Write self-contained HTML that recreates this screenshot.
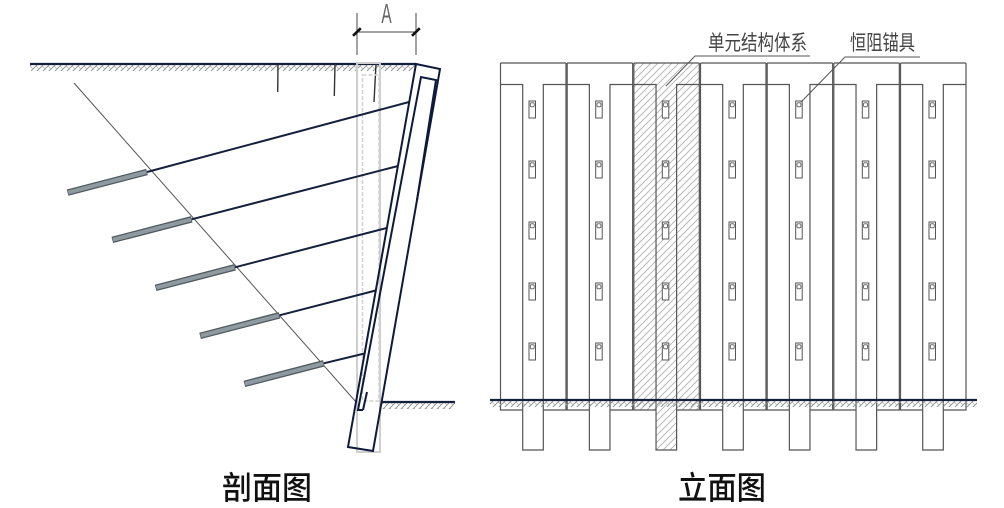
<!DOCTYPE html>
<html>
<head>
<meta charset="utf-8">
<style>
html,body{margin:0;padding:0;background:#fff;}
svg{display:block;}
</style>
</head>
<body>
<svg width="1004" height="508" viewBox="0 0 1004 508" xmlns="http://www.w3.org/2000/svg">
<defs>
  <pattern id="gh" patternUnits="userSpaceOnUse" width="6" height="6">
    <path d="M0,6 L6,0 M-1,1 L1,-1 M5,7 L7,5" stroke="#8a8a8a" stroke-width="0.9" fill="none"/>
    <path d="M0,0 L3,3" stroke="#aaa" stroke-width="0.7" fill="none"/>
  </pattern>
  <pattern id="uh" patternUnits="userSpaceOnUse" width="7" height="7">
    <path d="M0,7 L7,0 M-1,1 L1,-1 M6,8 L8,6" stroke="#b0b0b0" stroke-width="0.9" fill="none"/>
  </pattern>
  <g id="ic">
    <rect x="0" y="0" width="6.5" height="17" fill="#fff" stroke="#555" stroke-width="1"/>
    <rect x="1.3" y="1.8" width="3.9" height="4" rx="1" fill="none" stroke="#555" stroke-width="0.8"/>
  </g>
  <path id="unit" d="M0.5,63 H66 M0.5,63 V410 H22.7 M66,63 V410 H43.3 M0.5,84.5 H22.7 V450 H43.3 V84.5 H66" fill="none" stroke="#555" stroke-width="1.2"/>
</defs>

<rect width="1004" height="508" fill="#fff"/>

<!-- ================= LEFT: SECTION ================= -->
<!-- ground hatch -->
<rect x="30" y="65" width="386" height="6" fill="url(#gh)"/>
<rect x="380" y="403" width="75" height="6" fill="url(#gh)"/>
<!-- ground lines -->
<line x1="30" y1="64" x2="416" y2="64" stroke="#14213d" stroke-width="2.2"/>
<line x1="380" y1="402" x2="455" y2="402" stroke="#14213d" stroke-width="2.2"/>

<!-- small verticals -->
<line x1="278" y1="64" x2="277.7" y2="92" stroke="#333" stroke-width="1.4"/>
<line x1="335" y1="64" x2="334.3" y2="96" stroke="#333" stroke-width="1.4"/>
<line x1="376" y1="64" x2="374" y2="102" stroke="#333" stroke-width="1.4"/>

<!-- gray band -->
<rect x="357" y="63" width="23" height="389" fill="none" stroke="#cfcfcf" stroke-width="2"/>
<rect x="362.5" y="75" width="16.5" height="326" fill="none" stroke="#d0d0d0" stroke-width="1.5" stroke-dasharray="4,2"/>

<!-- slip line -->
<line x1="74" y1="83" x2="356" y2="402" stroke="#555" stroke-width="1"/>

<!-- anchors: free length -->
<g stroke="#14213d" stroke-width="2" fill="none">
  <line x1="409" y1="102" x2="147" y2="172"/>
  <line x1="398" y1="166" x2="191.7" y2="219.3"/>
  <line x1="386.7" y1="228" x2="235" y2="267.3"/>
  <line x1="375.7" y1="290.5" x2="279.5" y2="315.3"/>
  <line x1="364.5" y1="353.5" x2="323.8" y2="363.3"/>
</g>
<!-- rods -->
<g stroke-linecap="butt">
  <g stroke="#4f5a5f" stroke-width="6.5">
    <line x1="147" y1="172" x2="67.6" y2="192.6"/>
    <line x1="191.7" y1="219.3" x2="112.3" y2="239.9"/>
    <line x1="235" y1="267.3" x2="155.6" y2="287.9"/>
    <line x1="279.5" y1="315.3" x2="200.1" y2="335.9"/>
    <line x1="323.8" y1="363.3" x2="244.4" y2="383.9"/>
  </g>
  <g stroke="#8e9a9f" stroke-width="4">
    <line x1="146.3" y1="172.2" x2="68.3" y2="192.4"/>
    <line x1="191" y1="219.5" x2="113" y2="239.7"/>
    <line x1="234.3" y1="267.5" x2="156.3" y2="287.7"/>
    <line x1="278.8" y1="315.5" x2="200.8" y2="335.7"/>
    <line x1="323.1" y1="363.5" x2="245.1" y2="383.7"/>
  </g>
</g>

<!-- wall -->
<g stroke="#0d1a3a" stroke-width="2" fill="none" stroke-linejoin="miter">
  <path d="M416,64 L440,69 L373,451 L348,447 Z"/>
  <path d="M363,410 L358,410 L421,77 L436,80 L417,200"/>
  <path d="M363,410 L367,392"/>
</g>

<!-- dimension A -->
<g stroke="#444" stroke-width="1" fill="none">
  <line x1="357" y1="13" x2="357" y2="55"/>
  <line x1="416" y1="13" x2="416" y2="55"/>
  <line x1="357" y1="32" x2="416" y2="32"/>
</g>
<g stroke="#111" stroke-width="2.6">
  <line x1="353" y1="35.8" x2="360.8" y2="28.2"/>
  <line x1="412" y1="35.8" x2="419.8" y2="28.2"/>
</g>
<text x="386.5" y="23" font-family="Liberation Sans, sans-serif" font-size="28" fill="#666" text-anchor="middle" transform="translate(386.5,0) scale(0.55,1) translate(-386.5,0)">A</text>

<!-- ================= RIGHT: ELEVATION ================= -->
<!-- hatched unit -->
<path d="M634,63 H699.3 V410 H676.6 V450 H656 V410 H634 Z" fill="url(#uh)"/>

<use href="#unit" x="500"/>
<use href="#unit" x="566.67"/>
<use href="#unit" x="633.33"/>
<use href="#unit" x="700"/>
<use href="#unit" x="766.67"/>
<use href="#unit" x="833.33"/>
<use href="#unit" x="900"/>

<!-- ground -->
<rect x="490" y="401" width="487" height="6" fill="url(#gh)"/>
<line x1="490" y1="400" x2="977" y2="400" stroke="#14213d" stroke-width="2.2"/>

<!-- icons -->
<g>
  <use href="#ic" x="529" y="101"/><use href="#ic" x="529" y="161"/><use href="#ic" x="529" y="222"/><use href="#ic" x="529" y="283"/><use href="#ic" x="529" y="343"/>
  <use href="#ic" x="595.7" y="101"/><use href="#ic" x="595.7" y="161"/><use href="#ic" x="595.7" y="222"/><use href="#ic" x="595.7" y="283"/><use href="#ic" x="595.7" y="343"/>
  <use href="#ic" x="662.3" y="101"/><use href="#ic" x="662.3" y="161"/><use href="#ic" x="662.3" y="222"/><use href="#ic" x="662.3" y="283"/><use href="#ic" x="662.3" y="343"/>
  <use href="#ic" x="729" y="101"/><use href="#ic" x="729" y="161"/><use href="#ic" x="729" y="222"/><use href="#ic" x="729" y="283"/><use href="#ic" x="729" y="343"/>
  <use href="#ic" x="795.7" y="101"/><use href="#ic" x="795.7" y="161"/><use href="#ic" x="795.7" y="222"/><use href="#ic" x="795.7" y="283"/><use href="#ic" x="795.7" y="343"/>
  <use href="#ic" x="862.3" y="101"/><use href="#ic" x="862.3" y="161"/><use href="#ic" x="862.3" y="222"/><use href="#ic" x="862.3" y="283"/><use href="#ic" x="862.3" y="343"/>
  <use href="#ic" x="929" y="101"/><use href="#ic" x="929" y="161"/><use href="#ic" x="929" y="222"/><use href="#ic" x="929" y="283"/><use href="#ic" x="929" y="343"/>
</g>

<!-- leaders -->
<g stroke="#555" stroke-width="1" fill="none">
  <path d="M666,86 L695,56 H810"/>
  <path d="M801,102 L845,57 H920"/>
</g>
<text x="708" y="50" font-family="Liberation Sans, 'Noto Sans CJK SC', sans-serif" font-size="21" fill="#444" textLength="99" lengthAdjust="spacingAndGlyphs">单元结构体系</text>
<text x="850" y="50" font-family="Liberation Sans, 'Noto Sans CJK SC', sans-serif" font-size="21" fill="#444" textLength="65" lengthAdjust="spacingAndGlyphs">恒阻锚具</text>

<!-- captions -->
<text x="222" y="499" font-family="Liberation Sans, 'Noto Sans CJK SC', sans-serif" font-size="32" font-weight="500" fill="#111" textLength="90" lengthAdjust="spacingAndGlyphs">剖面图</text>
<text x="678" y="499" font-family="Liberation Sans, 'Noto Sans CJK SC', sans-serif" font-size="32" font-weight="500" fill="#111" textLength="88" lengthAdjust="spacingAndGlyphs">立面图</text>
</svg>
</body>
</html>
